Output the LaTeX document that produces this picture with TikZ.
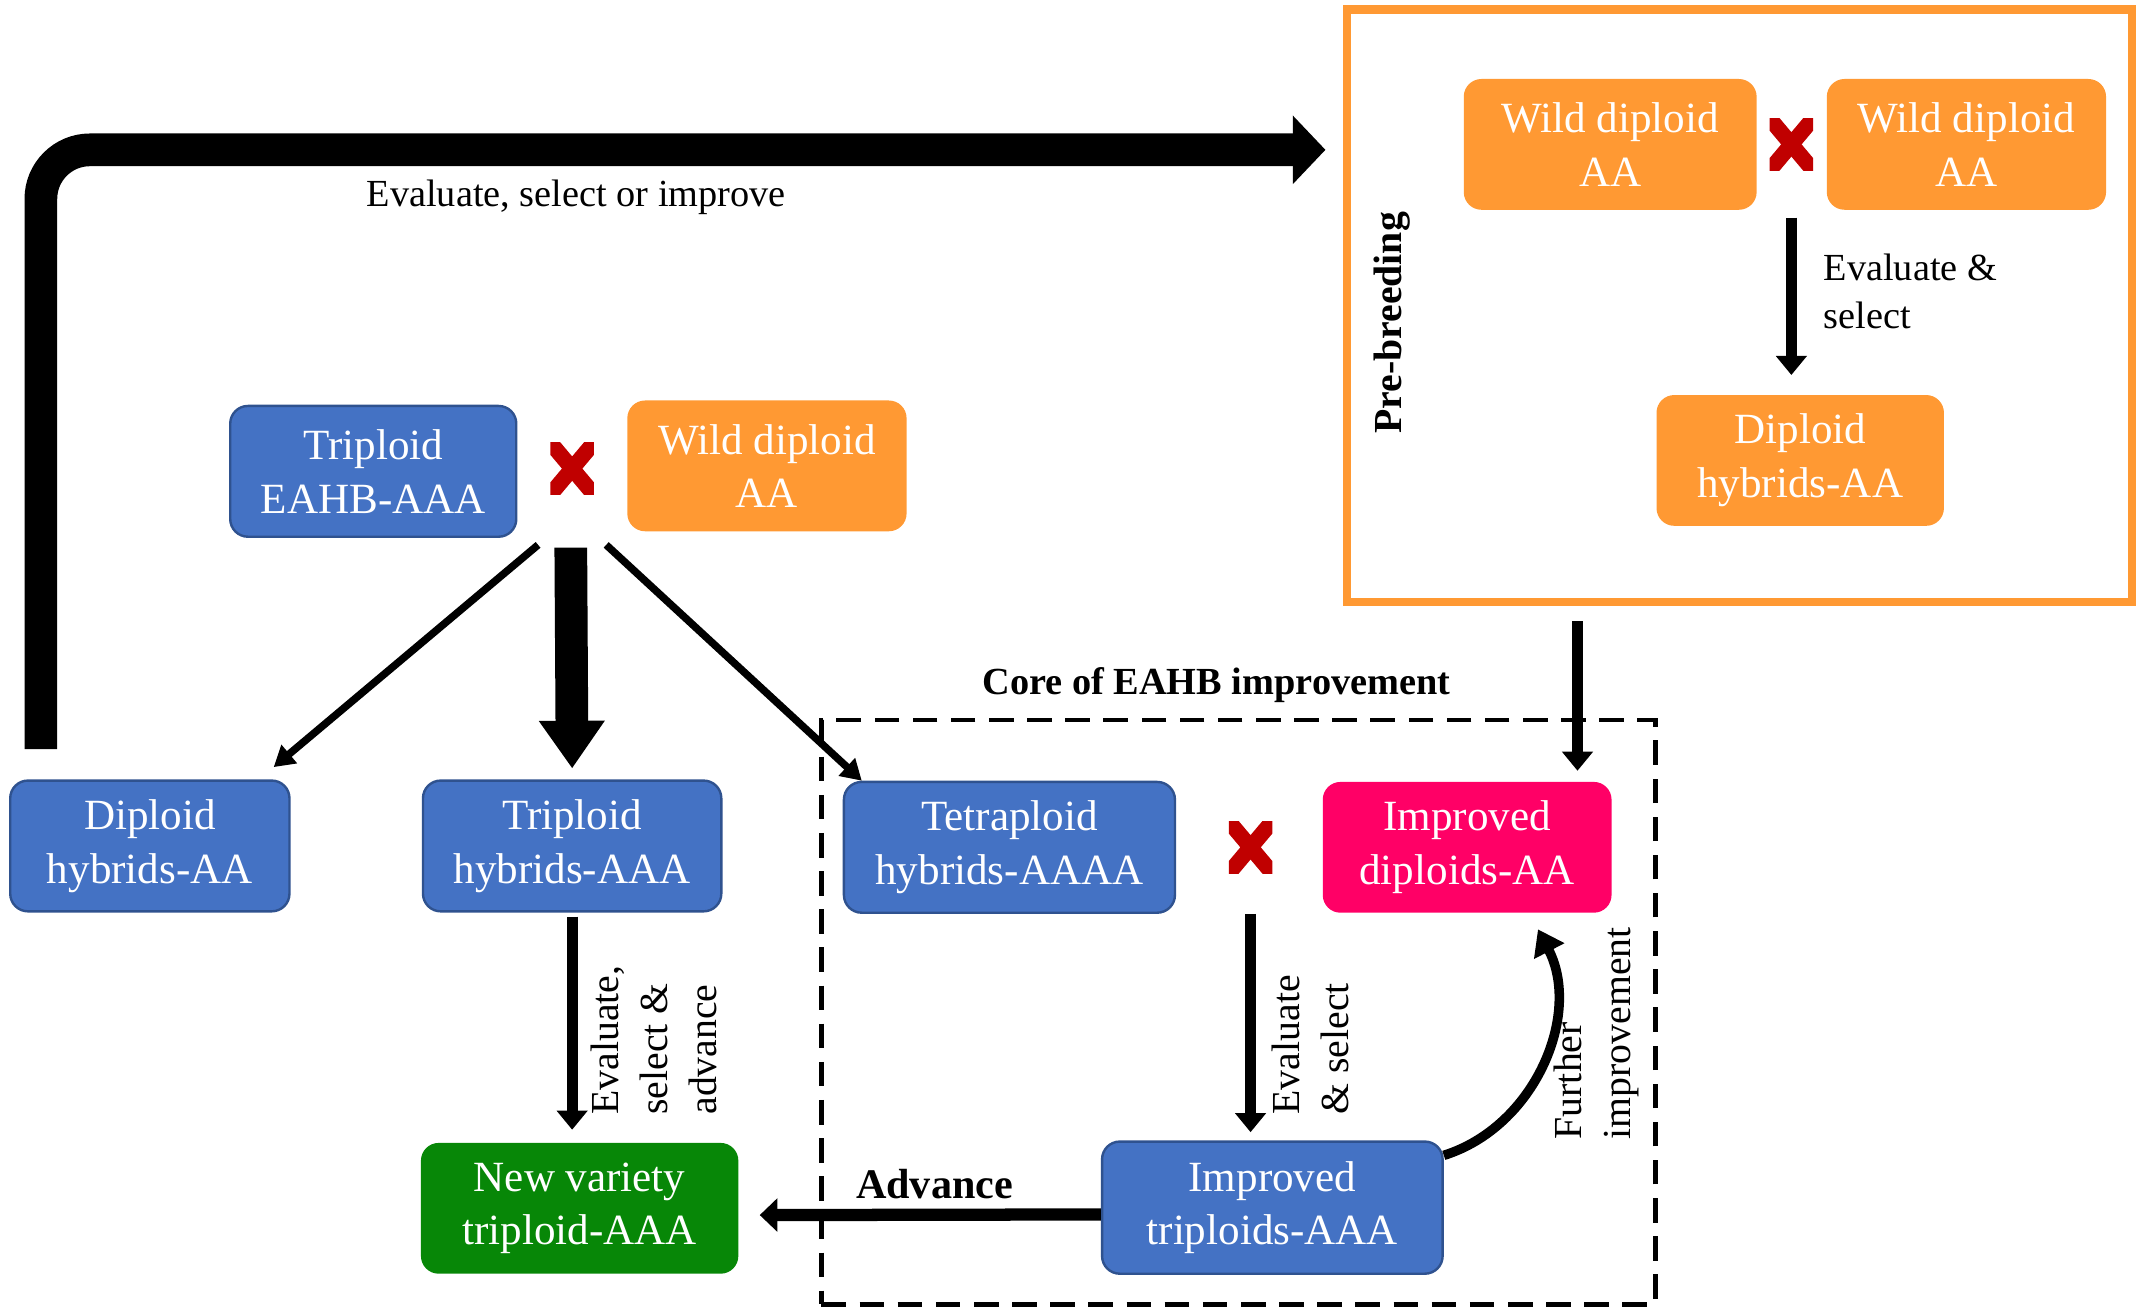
\documentclass[tikz,border=0pt]{standalone}
\usepackage{fontspec}
\setmainfont{Liberation Serif}
\usetikzlibrary{positioning,arrows.meta}
\definecolor{eahbblue}{HTML}{4472C4}
\definecolor{eahbedge}{HTML}{2F528F}
\definecolor{wildorange}{HTML}{FF9933}
\definecolor{imppink}{HTML}{FF0066}
\definecolor{varietygreen}{HTML}{078707}
\definecolor{crossred}{HTML}{C00000}
\newcommand{\boxfont}{\fontsize{9}{11.2}\selectfont}
\newcommand{\notefont}{\fontsize{8}{10}\selectfont}
\newcommand{\sidefont}{\fontsize{8.3}{10.3}\selectfont}
\newcommand{\advfont}{\fontsize{8.8}{10.6}\selectfont}

\begin{document}
\begin{tikzpicture}[
    box/.style={rounded corners=0.13cm, align=center, text=white, minimum height=0.96cm, inner sep=1pt, font=\boxfont},
    blue box/.style={box, fill=eahbblue, draw=eahbedge, line width=0.5pt},
    wild box/.style={box, fill=wildorange},
    crossmark/.style={minimum width=0.32cm, minimum height=0.38cm, inner sep=0pt,
      path picture={\draw[crossred, line width=0.115cm]
        ([shift={(-0.05,0.06)}]path picture bounding box.north west) -- ([shift={(0.05,-0.06)}]path picture bounding box.south east)
        ([shift={(0.05,0.06)}]path picture bounding box.north east) -- ([shift={(-0.05,-0.06)}]path picture bounding box.south west);}},
    link/.style={line width=0.08cm, -{Triangle[length=0.14cm, width=0.22cm]}},
    slim/.style={line width=0.055cm, -{Triangle[length=0.15cm, width=0.17cm]}},
    sidenote/.style={rotate=90, align=left, font=\sidefont, inner sep=0pt},
  ]
  \useasboundingbox (0,0) rectangle (15.68,-9.62);
  \node[blue box, minimum width=2.10cm] (TriEAHB) at (2.74,-3.46) {Triploid\\EAHB-AAA};
  \node[crossmark] (CrossA) at (4.20,-3.44) {};
  \node[wild box, minimum width=2.05cm] (WildA) at (5.63,-3.42) {Wild diploid\\AA};
  \node[blue box, minimum width=2.19cm, on grid, below=2.77 of CrossA] (TriHyb) {Triploid\\hybrids-AAA};
  \node[blue box, minimum width=2.05cm, on grid, left=3.10 of TriHyb] (DipHyb) {Diploid\\hybrids-AA};
  \node[blue box, minimum width=2.43cm] (Tetra) at (7.41,-6.22) {Tetraploid\\hybrids-AAAA};
  \node[crossmark, on grid, right=1.77 of Tetra] (CrossB) {};
  \node[box, fill=imppink, minimum width=2.12cm, on grid, right=1.59 of CrossB] (ImpDip) {Improved\\diploids-AA};
  \node[box, fill=varietygreen, minimum width=2.33cm] (NewVar) at (4.255,-8.87) {New variety\\triploid-AAA};
  \node[blue box, minimum width=2.50cm, minimum height=0.97cm] (ImpTri) at (9.34,-8.865) {Improved\\triploids-AAA};

  \node[draw=wildorange, line width=0.06cm, minimum width=5.76cm, minimum height=4.35cm, inner sep=0pt] (PreBox) at (12.77,-2.245) {};
  \node[wild box, minimum width=2.15cm] (WildB) at (11.82,-1.06) {Wild diploid\\AA};
  \node[crossmark, on grid, right=1.33 of WildB] (CrossC) {};
  \node[wild box, minimum width=2.05cm, on grid, right=1.285 of CrossC] (WildC) {Wild diploid\\AA};
  \node[wild box, minimum width=2.11cm] (PreDip) at (13.215,-3.38) {Diploid\\hybrids-AA};
  \node[font=\bfseries\sidefont, rotate=90, inner sep=0pt] (PreLabel) at (10.22,-2.37) {Pre-breeding};
  \node[font=\notefont, align=left, anchor=west, inner sep=0pt] (PreNote) at (13.38,-2.14) {Evaluate \&\\select};

  \node[draw, line width=0.035cm, dash pattern=on 0.18cm off 0.1cm, minimum width=6.12cm, minimum height=4.29cm, inner sep=0pt] (CoreBox) at (9.09,-7.43) {};
  \node[font=\bfseries\notefont] (CoreLabel) at (8.93,-5.03) {Core of EAHB improvement};
  \node[font=\notefont] (LoopNote) at (4.23,-1.45) {Evaluate, select or improve};
  \node[font=\bfseries\advfont] (AdvNote) at (6.86,-8.69) {Advance};
  \node[sidenote] (TriNote) at (4.80,-7.635) {Evaluate,\\select \&\\advance};
  \node[sidenote] (TetNote) at (9.62,-7.67) {Evaluate\\\& select};
  \node[sidenote] (FurNote) at (11.72,-7.585) {Further\\improvement};

  \coordinate (Fork) at (4.19,-4.0);
  \coordinate (LoopFoot) at (0.30,-5.50);
  \coordinate (LoopTip) at (9.73,-1.10);
  \coordinate (FeedIn) at ([xshift=0.81cm]ImpDip.north);
  \draw[line width=0.24cm, rounded corners=0.36cm, -{Triangle[length=0.24cm, width=0.49cm]}] (LoopFoot) |- (LoopTip);
  \draw[slim] ([xshift=-0.24cm]Fork) -- ([shift={(-0.125,0.09)}]DipHyb.north east);
  \draw[line width=0.24cm, -{Triangle[length=0.35cm, width=0.46cm]}] ([yshift=-0.02cm]Fork) -- ([yshift=0.08cm]TriHyb.north);
  \draw[slim] ([xshift=0.26cm]Fork) -- ([xshift=0.14cm]Tetra.north west);
  \draw[link, shorten <=0.03cm, shorten >=0.09cm] (TriHyb.south) -- (TriHyb.south |- NewVar.north);
  \draw[link, shorten >=0.06cm] (CrossB |- Tetra.south) -- (CrossB |- ImpTri.north);
  \draw[link, shorten <=0.05cm, shorten >=0.14cm] (CrossC |- WildB.south) -- (CrossC |- PreDip.north);
  \draw[link, shorten <=0.11cm, shorten >=0.075cm] (FeedIn |- PreBox.south) -- (FeedIn);
  \draw[line width=0.09cm, -{Triangle[length=0.13cm, width=0.24cm]}, shorten >=0.15cm] ([yshift=-0.05cm]ImpTri.west) -- ([yshift=-0.05cm]NewVar.east);
  \draw[line width=0.07cm, -{Triangle[length=0.18cm, width=0.24cm]}] ([yshift=-0.11cm]ImpTri.north east) to[bend right=50] ([shift={(0.52,-0.115)}]ImpDip.south);
\end{tikzpicture}
\end{document}
